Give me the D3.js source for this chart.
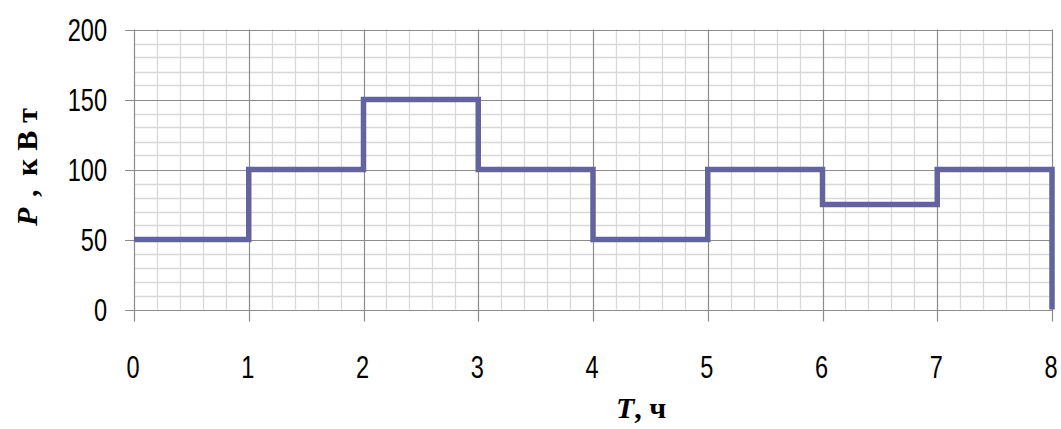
<!DOCTYPE html>
<meta charset="utf-8">
<style>
body { margin: 0; background: #fff; }
.tick-label { font-family: 'Liberation Sans', Arial, sans-serif; font-size: 31px; fill: #000; }
.title { font-family: 'Liberation Serif', 'Times New Roman', serif; font-weight: bold; font-size: 30px; fill: #000; }
</style>
<body>
<div id="chart"></div>
<script src="https://d3js.org/d3.v7.min.js"></script>
<script>
// step data: power per hour interval
var hours = [0, 1, 2, 3, 4, 5, 6, 7, 8];
var power = [50, 100, 150, 100, 50, 100, 75, 100];
var yTicks = [0, 50, 100, 150, 200];

var width = 1061,
    height = 429,
    margin = {top: 29.5, right: 9, bottom: 119.5, left: 134};

var svg = d3.select("#chart").append("svg")
    .attr("width", width)
    .attr("height", height);

var x = d3.scaleLinear().domain([0, 8]).range([margin.left, width - margin.right]);
var y = d3.scaleLinear().domain([0, 200]).range([height - margin.bottom, margin.top]);

// narrow digits like the original
var squeeze = 0.76;

// minor grid
var minorX = d3.range(0, 8.001, 0.2).filter(function(d) { return Math.abs(d - Math.round(d)) > 1e-6; });
var minorY = d3.range(0, 201, 10).filter(function(d) { return d % 50 !== 0; });

svg.append("g").selectAll("line")
    .data(minorX)
  .enter().append("line")
    .attr("x1", function(d) { return Math.round(x(d)) + 0.5; })
    .attr("x2", function(d) { return Math.round(x(d)) + 0.5; })
    .attr("y1", y(0)).attr("y2", y(200))
    .attr("stroke", "#d9d9d9").attr("stroke-width", 1.3);

svg.append("g").selectAll("line")
    .data(minorY)
  .enter().append("line")
    .attr("y1", function(d) { return Math.round(y(d)) + 0.5; })
    .attr("y2", function(d) { return Math.round(y(d)) + 0.5; })
    .attr("x1", x(0)).attr("x2", x(8))
    .attr("stroke", "#d9d9d9").attr("stroke-width", 1.3);

// major grid + ticks
svg.append("g").selectAll("line")
    .data(hours)
  .enter().append("line")
    .attr("x1", function(d) { return Math.round(x(d)) + 0.5; })
    .attr("x2", function(d) { return Math.round(x(d)) + 0.5; })
    .attr("y1", y(0) + 12).attr("y2", y(200))
    .attr("stroke", "#8c8c8c").attr("stroke-width", 1.2);

svg.append("g").selectAll("line")
    .data(yTicks)
  .enter().append("line")
    .attr("y1", function(d) { return Math.round(y(d)) + 0.5; })
    .attr("y2", function(d) { return Math.round(y(d)) + 0.5; })
    .attr("x1", x(0) - 9).attr("x2", x(8))
    .attr("stroke", "#8c8c8c").attr("stroke-width", 1.2);

// tick labels
svg.append("g").selectAll("text")
    .data(yTicks)
  .enter().append("text")
    .attr("class", "tick-label")
    .attr("transform", function(d) { return "translate(107," + y(d) + ") scale(" + squeeze + ",1)"; })
    .attr("dy", "0.36em")
    .attr("text-anchor", "end")
    .text(function(d) { return d; });

svg.append("g").selectAll("text")
    .data(hours)
  .enter().append("text")
    .attr("class", "tick-label")
    .attr("transform", function(d) { return "translate(" + (x(d) - 1) + ",378) scale(" + squeeze + ",1)"; })
    .attr("text-anchor", "middle")
    .text(function(d) { return d; });

// step line, dropping to zero at the end
var pts = [];
power.forEach(function(p, i) {
  pts.push([hours[i], p]);
  pts.push([hours[i + 1], p]);
});
pts.push([8, 0]);

svg.append("path")
    .datum(pts)
    .attr("fill", "none")
    .attr("stroke", "#63639d")
    .attr("stroke-width", 5.5)
    .attr("stroke-linejoin", "miter")
    .attr("d", d3.line().x(function(d) { return x(d[0]); }).y(function(d) { return y(d[1]); }));

// axis titles
var xt = svg.append("text").attr("class", "title")
    .attr("x", 641).attr("y", 418).attr("text-anchor", "middle");
xt.append("tspan").style("font-style", "italic").text("T");
xt.append("tspan").text(", ч");

var yt = svg.append("text").attr("class", "title")
    .attr("transform", "translate(37,163) rotate(-90)")
    .attr("text-anchor", "middle");
yt.append("tspan").style("font-style", "italic").text("P");
yt.append("tspan").attr("letter-spacing", "3px").text(" , ");
yt.append("tspan").attr("letter-spacing", "8px").text("кВт");
</script>
</body>
